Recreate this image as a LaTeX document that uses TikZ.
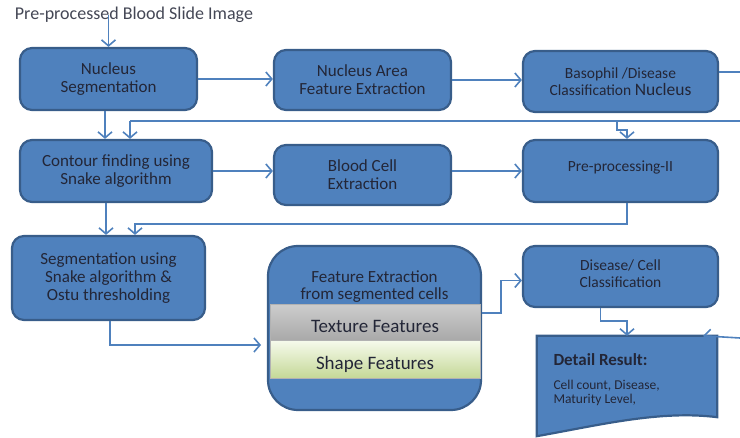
\documentclass[tikz,border=0pt]{standalone}
\usepackage{fontspec}
\setmainfont{Carlito}
\usetikzlibrary{arrows.meta,positioning}
\definecolor{boxblue}{RGB}{79,129,189}
\definecolor{boxedge}{RGB}{56,93,138}
\definecolor{lineblue}{RGB}{79,129,189}
\definecolor{txtdark}{RGB}{35,38,55}
\definecolor{shapetop}{RGB}{246,250,236}
\definecolor{shapebot}{RGB}{196,216,150}
\tikzset{
  box/.style={draw=boxedge, line width=2.2pt, fill=boxblue, rounded corners=12pt,
    text=txtdark, align=center, inner sep=0pt, font=\fontsize{17}{18}\selectfont},
  smallbox/.style={box, font=\fontsize{15.5}{17}\selectfont},
  band/.style={draw=gray!60, line width=0.6pt, inner sep=0pt, minimum width=210pt,
    text height=25pt, text depth=4pt, text=txtdark, font=\fontsize{19}{20}\selectfont},
  conn/.style={draw=lineblue, line width=1.6pt, -{Straight Barb[length=6pt,width=14pt]}},
  plain/.style={draw=lineblue, line width=1.6pt},
}
\begin{document}
\begin{tikzpicture}[x=1pt,y=-1pt]
  \useasboundingbox (0,0) rectangle (740,438);

  \node[text=txtdark!85, font=\fontsize{18}{20}\selectfont] (title) at (134,15) {Pre-processed Blood Slide Image};

  % first row
  \node[box, minimum width=177pt, minimum height=62pt] (nuc) at (108.5,79) {Nucleus\\Segmentation};
  \node[box, minimum width=177pt, minimum height=60pt] (area) at (362.5,80) {Nucleus Area\\Feature Extraction};
  \node[smallbox, minimum width=195pt, minimum height=61pt] (baso) at (620.5,81.5)
    {Basophil /Disease\\Classification {\fontsize{17.5}{17}\selectfont Nucleus}};

  % second row
  \node[box, minimum width=192pt, minimum height=62pt] (cont) at (116,171) {Contour finding using\\Snake algorithm};
  \node[box, minimum width=177pt, minimum height=60pt] (cell) at (362.5,175) {Blood Cell\\Extraction};
  \node[smallbox, minimum width=195pt, minimum height=62pt, text depth=10pt] (pre) at (620.5,171) {Pre-processing-II};

  % third row
  \node[box, minimum width=193pt, minimum height=84pt] (seg) at (108.5,278)
    {Segmentation using\\Snake algorithm \&\\Ostu thresholding};
  \node[box, rounded corners=30pt, minimum width=213pt, minimum height=164pt] (feat) at (374.5,328) {};
  \node[text=txtdark, align=center, font=\fontsize{17}{17}\selectfont] (feattxt) at (374.5,287)
    {Feature Extraction\\from segmented cells};
  \node[band, minimum height=36pt, top color=gray!40, middle color=gray!10, bottom color=gray!68] (tex) at (375,322.5) {Texture Features};
  \node[band, minimum height=38pt, top color=shapetop, bottom color=shapebot] (shp) at (375,359.5) {Shape Features};
  \node[smallbox, minimum width=195pt, minimum height=61pt, text depth=6pt] (dis) at (620.5,276.5) {Disease/ Cell\\Classification};

  % result sheet
  \node[inner sep=0pt, minimum width=180pt, minimum height=100pt] (det) at (627,386) {};
  \draw[draw=boxedge, line width=2.2pt, fill=boxblue] (det.north west) -- (det.north east)
    -- ([yshift=19pt]det.south east) .. controls (660,410) and (600,425) .. (det.south west) -- cycle;
  \node[anchor=west, text=txtdark, font=\bfseries\fontsize{17}{18}\selectfont] (dethead) at (550,360) {Detail Result:};
  \node[anchor=north west, text=txtdark, align=left, font=\fontsize{13.5}{14}\selectfont] (detbody) at (550,377)
    {Cell count, Disease,\\Maturity Level,};

  % loose ends at the right border
  \coordinate (edgeA) at (740,72);
  \coordinate (edgeB) at (740,121);
  \coordinate (edgeC) at (740,338);
  \coordinate (jA) at (130,121);
  \coordinate (jB) at (617,121);
  \coordinate (jC) at (135,224);
  \coordinate (jD) at (261,345);

  \draw[conn] (title.center -| nuc.north) -- (nuc.north);
  \draw[conn] (nuc.east) -- (nuc.east -| area.west);
  \draw[conn] (area.east) -- (area.east -| baso.west);
  \draw[plain] (edgeA -| baso.east) -- (edgeA);

  \draw[plain] (edgeB) -- (jA);
  \draw[conn] (jA) -- (jA |- cont.north);
  \draw[conn] (jB) -- ++(0,9) -| ([xshift=6.5pt]pre.north);
  \draw[conn] ([xshift=-3.5pt]nuc.south) -- ([xshift=-3.5pt]nuc.south |- cont.north);

  \draw[conn] (cont.east) -- (cont.east -| cell.west);
  \draw[conn] (cell.east |- cont.east) -- (cont.east -| pre.west);
  \draw[conn] ([xshift=6.5pt]pre.south) |- (jC) -- (jC |- seg.north);
  \draw[conn] ([xshift=-10pt]cont.south) -- ([xshift=-10pt]cont.south |- seg.north);

  \draw[conn] ([xshift=1.5pt]seg.south) |- (jD);
  \draw[conn] ([yshift=15pt]feat.east) -- ++(19,0) |- ([yshift=-4pt]dis.west);
  \draw[conn] ([xshift=-20pt]dis.south) -- ++(0,13) -| (det.north);
  \draw[conn] (edgeC) -- ([xshift=-14pt]det.north east);
\end{tikzpicture}
\end{document}
